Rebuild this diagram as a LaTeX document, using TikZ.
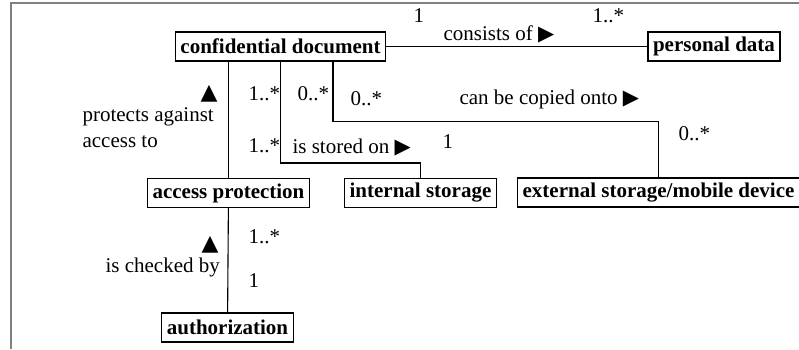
\documentclass[tikz,border=0pt]{standalone}
\usepackage{fontspec}
\setmainfont{Liberation Serif}
\newfontfamily\symfont{DejaVu Sans}
\newcommand{\sz}{\fontsize{21}{25}\selectfont}
\newcommand{\rgt}{{\symfont\fontsize{21}{22}\selectfont ▶}}
\newcommand{\up}{{\symfont\fontsize{22}{23}\selectfont ▲}}
\tikzset{
  class/.style={draw,font=\sz\bfseries,inner sep=0pt,inner xsep=5pt,minimum height=29pt},
  lbl/.style={anchor=base west,inner sep=0pt,font=\sz},
}

\begin{document}
\begin{tikzpicture}[x=1pt,y=-1pt,line width=1.1pt]
   \useasboundingbox (0,0) rectangle (799,349);
   \draw[gray,line width=2pt] (11,349) -- (11,3) -- (799,3);
   \node[class] (doc)  at (280.5,46.5) {confidential document};
   \node[class] (pd)   at (714,46.5)   {personal data};
   \node[class] (acc)  at (228.5,193)  {access protection};
   \node[class] (int)  at (420.5,193)  {internal storage};
   \node[class] (ext)  at (658.5,192.5) {external storage/mobile device};
   \node[class] (auth) at (227.5,327.5) {authorization};
   \draw (doc) -- (pd);
   \draw (doc.south -| acc.north) -- (acc.north);
   \draw (doc.south) |- ([yshift=15pt]int.north) -- (int.north);
   \draw ([xshift=52.5pt]doc.south) |- ([yshift=56pt]ext.north) -- (ext.north);
   \draw (acc) -- (auth);
   \node[lbl] (m1)  at (413,22)  {1};
   \node[lbl] (m2)  at (592,22)  {1..*};
   \node[lbl] (r1)  at (443,40)  {consists of \rgt};
   \node[lbl] (r2)  at (459,104) {can be copied onto \rgt};
   \node[lbl] (m3)  at (678,140) {0..*};
   \node[lbl] (m4)  at (442,148) {1};
   \node[lbl] (r3)  at (292,153) {is stored on \rgt};
   \node[lbl] (m5)  at (248,100) {1..*};
   \node[lbl] (m6)  at (297,100) {0..*};
   \node[lbl] (m7)  at (350,105) {0..*};
   \node[lbl] (m8)  at (248,152) {1..*};
   \node[lbl] (a1)  at (200,99)  {\up};
   \node[lbl] (r4)  at (82,121)  {protects against};
   \node[lbl] (r5)  at (82,147)  {access to};
   \node[lbl] (a2)  at (201,250) {\up};
   \node[lbl] (r6)  at (105,272) {is checked by};
   \node[lbl] (m9)  at (248,243) {1..*};
   \node[lbl] (m10) at (248,287) {1};
\end{tikzpicture}
\end{document}
